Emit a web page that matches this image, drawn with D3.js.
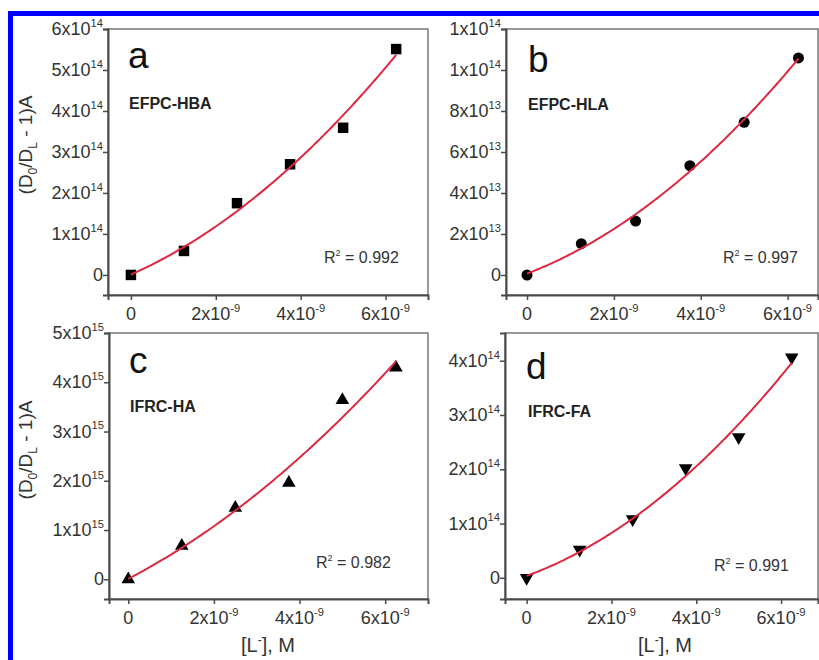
<!DOCTYPE html>
<html>
<head>
<meta charset="utf-8">
<script src="https://cdn.jsdelivr.net/npm/d3@7"></script>
<style>
  body { margin: 0; background: #fff; }
  svg { display: block; font-family: "Liberation Sans", Arial, sans-serif; }
</style>
</head>
<body>
<div id="chart"></div>
<script>
// Ligand concentration, M (same for all four panels)
const concValues = [0, 1.25e-9, 2.5e-9, 3.75e-9, 5e-9, 6.25e-9]

// (D0/DL - 1)A for each system
const hbaValues = [0, 0.585e14, 1.75e14, 2.70e14, 3.59e14, 5.51e14]
const hlaValues = [0, 1.53e13, 2.63e13, 5.33e13, 7.45e13, 10.59e13]
const haValues  = [0, 0.68e15, 1.45e15, 1.96e15, 3.64e15, 4.30e15]
const faValues  = [0, 0.52e14, 1.08e14, 2.02e14, 2.59e14, 4.06e14]

const seriesNames = ["EFPC-HBA", "EFPC-HLA", "IFRC-HA", "IFRC-FA"]
const panelLetters = ["a", "b", "c", "d"]
const r2Labels = ["0.992", "0.997", "0.982", "0.991"]

// tick values and their labels [mantissa, exponent]
const xTickValues = [0, 2e-9, 4e-9, 6e-9]
const xTickLabels = [["0", ""], ["2x10", "-9"], ["4x10", "-9"], ["6x10", "-9"]]

const hbaYTicks = [0, 1e14, 2e14, 3e14, 4e14, 5e14, 6e14]
const hbaYLabels = [["0", ""], ["1x10", "14"], ["2x10", "14"], ["3x10", "14"], ["4x10", "14"], ["5x10", "14"], ["6x10", "14"]]
const hlaYTicks = [0, 2e13, 4e13, 6e13, 8e13, 1e14, 1.2e14]
const hlaYLabels = [["0", ""], ["2x10", "13"], ["4x10", "13"], ["6x10", "13"], ["8x10", "13"], ["1x10", "14"], ["1x10", "14"]]
const haYTicks = [0, 1e15, 2e15, 3e15, 4e15, 5e15]
const haYLabels = [["0", ""], ["1x10", "15"], ["2x10", "15"], ["3x10", "15"], ["4x10", "15"], ["5x10", "15"]]
const faYTicks = [0, 1e14, 2e14, 3e14, 4e14]
const faYLabels = [["0", ""], ["1x10", "14"], ["2x10", "14"], ["3x10", "14"], ["4x10", "14"]]

const W = 819, H = 660

// Panel layout
const panels = [
  { values: hbaValues, marker: "square", yTicks: hbaYTicks, yLabels: hbaYLabels, yMinor: 0.5e14,
    box: { l: 108, r: 428, t: 29, b: 295 }, xDomain: [-0.54e-9, 7.0e-9], yDomain: [-0.49e14, 6e14],
    letter: [128, 68], name: [129, 109], r2: [324, 263], yTitle: 145, xTitle: null },
  { values: hlaValues, marker: "circle", yTicks: hlaYTicks, yLabels: hlaYLabels, yMinor: 1e13,
    box: { l: 506, r: 818, t: 29, b: 295 }, xDomain: [-0.484e-9, 6.70e-9], yDomain: [-0.976e13, 1.2e14],
    letter: [528, 72], name: [528, 110], r2: [723, 263], yTitle: null, xTitle: null },
  { values: haValues, marker: "triangle", yTicks: haYTicks, yLabels: haYLabels, yMinor: 0.5e15,
    box: { l: 109, r: 428, t: 333, b: 599 }, xDomain: [-0.45e-9, 7.0e-9], yDomain: [-0.40e15, 5e15],
    letter: [129, 373], name: [130, 412], r2: [316, 568], yTitle: 450, xTitle: 268 },
  { values: faValues, marker: "triangleDown", yTicks: faYTicks, yLabels: faYLabels, yMinor: 0.5e14,
    box: { l: 505, r: 818, t: 333, b: 599 }, xDomain: [-0.51e-9, 6.87e-9], yDomain: [-0.39e14, 4.51e14],
    letter: [526, 379], name: [528, 417], r2: [714, 571], yTitle: null, xTitle: 665 }
]

const axisColor = "#4a4a4a"
const textColor = "#333"
const fitColor = "#dc2840"

const svg = d3.select("#chart").append("svg")
  .attr("width", W)
  .attr("height", H)

svg.append("rect").attr("width", W).attr("height", H).attr("fill", "#fff")

// blue frame of the figure (right and bottom sides are cut off)
svg.append("rect")
  .attr("x", 10.5).attr("y", 13.5)
  .attr("width", 900).attr("height", 900)
  .attr("fill", "none")
  .attr("stroke", "#0000ff")
  .attr("stroke-width", 5)

// least squares quadratic fit, x in nM
function quadFit(xs, ys) {
  let S = [[0, 0, 0], [0, 0, 0], [0, 0, 0]], T = [0, 0, 0]
  xs.forEach((x, i) => {
    let p = [1, x, x * x]
    for (let r = 0; r < 3; r++) {
      T[r] += p[r] * ys[i]
      for (let c = 0; c < 3; c++) S[r][c] += p[r] * p[c]
    }
  })
  // gaussian elimination
  for (let k = 0; k < 3; k++) {
    for (let r = k + 1; r < 3; r++) {
      let f = S[r][k] / S[k][k]
      for (let c = k; c < 3; c++) S[r][c] -= f * S[k][c]
      T[r] -= f * T[k]
    }
  }
  let c = [0, 0, 0]
  for (let r = 2; r >= 0; r--) {
    let s = T[r]
    for (let k = r + 1; k < 3; k++) s -= S[r][k] * c[k]
    c[r] = s / S[r][r]
  }
  return x => c[0] + c[1] * x + c[2] * x * x
}

function addLabel(sel, parts, opts) {
  let t = sel.append("text")
    .attr("x", opts.x).attr("y", opts.y)
    .attr("text-anchor", opts.anchor)
    .attr("font-size", opts.size)
    .attr("fill", textColor)
  t.append("tspan").text(parts[0])
  if (parts[1]) {
    t.append("tspan")
      .attr("dy", -opts.size * 0.45)
      .attr("font-size", opts.size * 0.62)
      .text(parts[1])
  }
  return t
}

const symbolTypes = {
  square: [d3.symbolSquare, 110, 0],
  circle: [d3.symbolCircle, 95, 0],
  triangle: [d3.symbolTriangle, 80, 0],
  triangleDown: [d3.symbolTriangle, 80, 180]
}

panels.forEach((p, i) => {
  const g = svg.append("g")
  const b = p.box

  const x = d3.scaleLinear().domain(p.xDomain).range([b.l, b.r])
  const y = d3.scaleLinear().domain(p.yDomain).range([b.b, b.t])

  // frame
  g.append("rect")
    .attr("x", b.l).attr("y", b.t)
    .attr("width", b.r - b.l).attr("height", b.b - b.t)
    .attr("fill", "none")
    .attr("stroke", "#777")
    .attr("stroke-width", 1.5)

  // X axis: major + minor ticks
  const xMinor = d3.range(1e-9, p.xDomain[1], 2e-9)
  const xAxisG = g.append("g").attr("transform", `translate(0,${b.b})`)
  xAxisG.call(d3.axisBottom(x).tickValues(xMinor).tickSize(3).tickFormat(""))
  xAxisG.call(d3.axisBottom(x).tickValues(xTickValues).tickSize(5).tickFormat(""))
  xAxisG.selectAll(".domain").attr("stroke", axisColor).attr("stroke-width", 2)
  xAxisG.selectAll(".tick line").attr("stroke", axisColor).attr("stroke-width", 1.5)

  xTickValues.forEach((v, k) => {
    addLabel(g, xTickLabels[k], { x: x(v), y: b.b + 25, anchor: "middle", size: 18 })
  })

  // Y axis: major + minor ticks
  const yMinor = d3.range(p.yDomain[0] < -p.yMinor ? -p.yMinor : p.yMinor, p.yDomain[1], 2 * p.yMinor)
    .filter(v => v > p.yDomain[0] && v < p.yDomain[1])
  const yAxisG = g.append("g").attr("transform", `translate(${b.l},0)`)
  yAxisG.call(d3.axisLeft(y).tickValues(yMinor).tickSize(3).tickFormat(""))
  yAxisG.call(d3.axisLeft(y).tickValues(p.yTicks).tickSize(5).tickFormat(""))
  yAxisG.selectAll(".domain").attr("stroke", axisColor).attr("stroke-width", 2)
  yAxisG.selectAll(".tick line").attr("stroke", axisColor).attr("stroke-width", 1.5)

  p.yTicks.forEach((v, k) => {
    addLabel(g, p.yLabels[k], { x: b.l - 5, y: y(v) + 6, anchor: "end", size: 18 })
  })

  // markers
  const sym = symbolTypes[p.marker]
  g.append("g").selectAll("path")
    .data(concValues.map((c, k) => ({ c, v: p.values[k] })))
    .join("path")
    .attr("d", d3.symbol().type(sym[0]).size(sym[1]))
    .attr("transform", d => `translate(${x(d.c)},${y(d.v)}) rotate(${sym[2]})`)
    .attr("fill", "#000")

  // fitted curve
  const fit = quadFit(concValues.map(c => c * 1e9), p.values)
  const curve = d3.range(0, 6.25 + 1e-9, 0.05).map(n => [n * 1e-9, fit(n)])
  g.append("path")
    .datum(curve)
    .attr("d", d3.line().x(d => x(d[0])).y(d => y(d[1])))
    .attr("fill", "none")
    .attr("stroke", fitColor)
    .attr("stroke-width", 2)

  // annotations
  g.append("text")
    .attr("x", p.letter[0]).attr("y", p.letter[1])
    .attr("font-size", 37)
    .attr("fill", "#111")
    .text(panelLetters[i])

  g.append("text")
    .attr("x", p.name[0]).attr("y", p.name[1])
    .attr("font-size", 16)
    .attr("font-weight", "bold")
    .attr("fill", "#222")
    .text(seriesNames[i])

  const r2 = g.append("text")
    .attr("x", p.r2[0]).attr("y", p.r2[1])
    .attr("font-size", 16)
    .attr("fill", textColor)
  r2.append("tspan").text("R")
  r2.append("tspan").attr("dy", -7).attr("font-size", 9).text("2")
  r2.append("tspan").attr("dy", 7).text(" = " + r2Labels[i])

  if (p.yTitle !== null) {
    const t = g.append("text")
      .attr("transform", `translate(32,${p.yTitle}) rotate(-90)`)
      .attr("text-anchor", "middle")
      .attr("font-size", 19)
      .attr("fill", textColor)
    t.append("tspan").text("(D")
    t.append("tspan").attr("dy", 5).attr("font-size", 12).text("0")
    t.append("tspan").attr("dy", -5).text("/D")
    t.append("tspan").attr("dy", 5).attr("font-size", 12).text("L")
    t.append("tspan").attr("dy", -5).text(" - 1)A")
  }

  if (p.xTitle !== null) {
    const t = g.append("text")
      .attr("x", p.xTitle).attr("y", 652)
      .attr("text-anchor", "middle")
      .attr("font-size", 20)
      .attr("fill", textColor)
    t.append("tspan").text("[L")
    t.append("tspan").attr("dy", -8).attr("font-size", 12).text("-")
    t.append("tspan").attr("dy", 8).text("], M")
  }
})
</script>
</body>
</html>
